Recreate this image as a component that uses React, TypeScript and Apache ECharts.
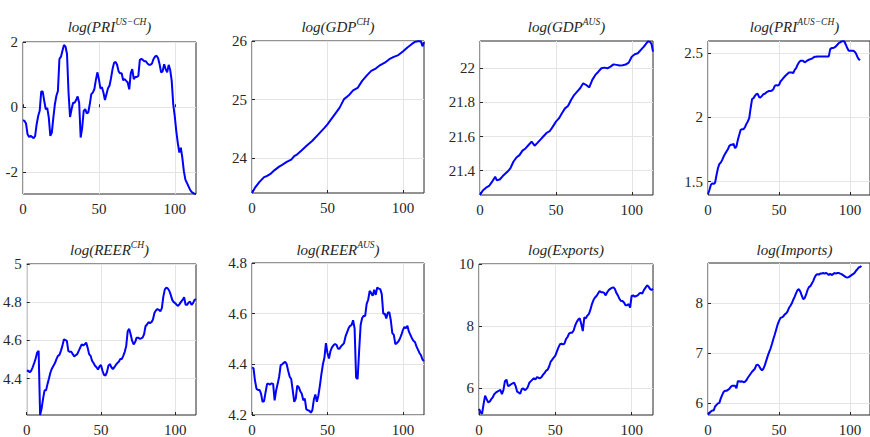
import React, { useEffect, useRef } from "react";
import * as echarts from "echarts";

// ---------- data ----------
const xTicks = [0, 50, 100];

const priUsCh = [
  -0.40, -0.42, -0.50, -0.83, -0.91, -0.88, -0.91, -0.95, -0.88, -0.52,
  -0.27, -0.11, 0.48, 0.48, 0.19, -0.06, -0.03, -0.32, -0.88, -0.78,
  -0.32, 0.09, 0.35, 0.50, 1.48, 1.55, 1.73, 1.91, 1.86, 1.63,
  0.45, -0.30, -0.06, 0.14, 0.14, 0.22, 0.33, 0.14, -0.93, -0.63,
  -0.11, -0.06, -0.19, -0.16, 0.09, 0.40, 0.45, 0.55, 0.83, 1.07,
  0.86, 0.58, 0.61, 0.45, 0.22, 0.40, 0.58, 0.66, 0.89, 1.17,
  1.36, 1.39, 1.30, 1.10, 1.04, 1.04, 0.83, 0.86, 0.81, 0.76,
  0.55, 1.04, 1.17, 0.86, 0.93, 0.93, 0.96, 1.45, 1.48, 1.45,
  1.41, 1.41, 1.34, 1.30, 1.30, 1.34, 1.48, 1.55, 1.58, 1.51,
  1.32, 1.07, 1.10, 1.32, 1.17, 1.07, 1.30, 1.14, 0.81, 0.09,
  -0.27, -0.73, -1.09, -1.39, -1.24, -1.55, -1.96, -2.22, -2.32, -2.42,
  -2.52, -2.59, -2.63, -2.65, -2.66,
];
const priUsChTicks = [-2, 0, 2];

const gdpCh = [
  [0, 23.41], [2, 23.5], [5, 23.6], [8, 23.68], [10, 23.7], [12, 23.73], [15, 23.8],
  [18, 23.86], [20, 23.89], [23, 23.94], [26, 23.98], [28, 24.04], [30, 24.07],
  [33, 24.14], [36, 24.21], [40, 24.3], [44, 24.41], [48, 24.52], [50, 24.58],
  [54, 24.72], [58, 24.86], [61, 25.01], [64, 25.07], [67, 25.16], [70, 25.2],
  [73, 25.32], [76, 25.41], [79, 25.49], [82, 25.53], [85, 25.59], [88, 25.63],
  [91, 25.69], [94, 25.73], [97, 25.76], [100, 25.82], [103, 25.89], [106, 25.95],
  [108, 25.985], [110, 25.997], [111, 25.997], [112, 25.99], [113, 25.91], [114, 25.98],
];
const gdpChTicks = [24, 25, 26];

const gdpAus = [
  [0, 21.258], [2, 21.285], [4, 21.3], [6, 21.31], [8, 21.335], [10, 21.364],
  [11, 21.344], [13, 21.348], [15, 21.368], [18, 21.393], [20, 21.413], [22, 21.452],
  [24, 21.477], [26, 21.491], [28, 21.517], [30, 21.53], [32, 21.55], [34, 21.57],
  [36, 21.546], [38, 21.564], [40, 21.583], [42, 21.603], [44, 21.622], [46, 21.632],
  [48, 21.658], [50, 21.687], [52, 21.706], [54, 21.736], [56, 21.765], [58, 21.779],
  [60, 21.814], [62, 21.843], [64, 21.863], [66, 21.883], [68, 21.912], [70, 21.902],
  [72, 21.888], [74, 21.932], [76, 21.961], [78, 21.98], [80, 22.0], [82, 22.004],
  [84, 22.0], [86, 22.01], [88, 22.023], [90, 22.02], [92, 22.016], [94, 22.018],
  [96, 22.022], [98, 22.033], [100, 22.068], [102, 22.082], [104, 22.088], [106, 22.108],
  [108, 22.127], [110, 22.151], [111, 22.158], [112, 22.155], [113, 22.143], [114, 22.098],
];
const gdpAusTicks = [21.4, 21.6, 21.8, 22];

const priAusCh = [
  1.404, 1.435, 1.474, 1.487, 1.482, 1.492, 1.552, 1.604, 1.638, 1.648,
  1.669, 1.695, 1.716, 1.734, 1.752, 1.778, 1.786, 1.786, 1.794, 1.76,
  1.773, 1.825, 1.864, 1.903, 1.908, 1.908, 1.923, 1.949, 1.968, 1.994,
  2.071, 2.142, 2.149, 2.167, 2.18, 2.183, 2.157, 2.155, 2.167, 2.18,
  2.183, 2.194, 2.2, 2.206, 2.204, 2.209, 2.219, 2.245, 2.251, 2.248,
  2.253, 2.279, 2.292, 2.305, 2.318, 2.329, 2.339, 2.349, 2.349, 2.349,
  2.344, 2.37, 2.383, 2.409, 2.427, 2.44, 2.44, 2.44, 2.427, 2.435,
  2.443, 2.448, 2.453, 2.456, 2.464, 2.471, 2.471, 2.474, 2.474, 2.474,
  2.474, 2.474, 2.474, 2.474, 2.474, 2.474, 2.531, 2.539, 2.539, 2.544,
  2.552, 2.565, 2.578, 2.583, 2.591, 2.593, 2.59, 2.565, 2.539, 2.518,
  2.518, 2.518, 2.518, 2.513, 2.5, 2.474, 2.453, 2.445,
];
const priAusChTicks = [1.5, 2, 2.5];

const reerCh = [
  4.441, 4.441, 4.433, 4.441, 4.459, 4.481, 4.505, 4.536, 4.545, 4.209,
  4.243, 4.295, 4.338, 4.338, 4.372, 4.402, 4.433, 4.453, 4.467, 4.481,
  4.502, 4.519, 4.524, 4.545, 4.571, 4.605, 4.602, 4.597, 4.545, 4.54,
  4.54, 4.528, 4.516, 4.522, 4.528, 4.545, 4.562, 4.579, 4.574, 4.579,
  4.588, 4.562, 4.528, 4.519, 4.493, 4.481, 4.467, 4.459, 4.447, 4.464,
  4.471, 4.441, 4.419, 4.416, 4.433, 4.467, 4.476, 4.459, 4.45, 4.459,
  4.471, 4.481, 4.488, 4.502, 4.502, 4.519, 4.54, 4.571, 4.648, 4.66,
  4.631, 4.597, 4.579, 4.591, 4.614, 4.614, 4.609, 4.61, 4.614, 4.631,
  4.674, 4.683, 4.695, 4.691, 4.695, 4.709, 4.743, 4.757, 4.764, 4.76,
  4.752, 4.769, 4.829, 4.867, 4.876, 4.872, 4.86, 4.838, 4.812, 4.8,
  4.795, 4.786, 4.781, 4.791, 4.803, 4.812, 4.826, 4.786, 4.786, 4.798,
  4.803, 4.786, 4.795, 4.812, 4.816,
];
const reerChTicks = [4.4, 4.6, 4.8, 5];

const reerAus = [
  4.387, 4.385, 4.335, 4.303, 4.299, 4.299, 4.284, 4.252, 4.255, 4.29,
  4.323, 4.323, 4.32, 4.325, 4.323, 4.258, 4.297, 4.323, 4.351, 4.397,
  4.4, 4.406, 4.41, 4.4, 4.374, 4.351, 4.342, 4.297, 4.252, 4.265,
  4.316, 4.31, 4.294, 4.284, 4.258, 4.265, 4.222, 4.219, 4.217, 4.209,
  4.219, 4.261, 4.281, 4.252, 4.277, 4.316, 4.361, 4.4, 4.426, 4.484,
  4.445, 4.423, 4.452, 4.467, 4.475, 4.48, 4.477, 4.462, 4.462, 4.471,
  4.477, 4.484, 4.51, 4.526, 4.542, 4.552, 4.555, 4.574, 4.542, 4.348,
  4.342, 4.452, 4.555, 4.583, 4.591, 4.591, 4.639, 4.655, 4.69, 4.681,
  4.671, 4.694, 4.674, 4.703, 4.699, 4.697, 4.677, 4.6, 4.6, 4.581,
  4.604, 4.606, 4.574, 4.523, 4.516, 4.48, 4.484, 4.49, 4.501, 4.516,
  4.535, 4.548, 4.542, 4.552, 4.529, 4.516, 4.503, 4.493, 4.488, 4.471,
  4.458, 4.445, 4.436, 4.419, 4.413,
];
const reerAusTicks = [4.2, 4.4, 4.6, 4.8];

const exportsLog = [
  5.34, 5.23, 5.18, 5.49, 5.76, 5.65, 5.55, 5.57, 5.65, 5.71,
  5.81, 5.86, 5.89, 5.92, 5.95, 5.81, 5.94, 6.23, 6.28, 6.07,
  6.09, 6.13, 6.16, 6.18, 6.07, 5.89, 5.86, 5.83, 5.97, 6.0,
  5.94, 5.97, 6.04, 6.18, 6.23, 6.28, 6.32, 6.28, 6.36, 6.34,
  6.32, 6.36, 6.44, 6.49, 6.57, 6.6, 6.71, 6.86, 6.92, 6.99,
  7.05, 7.18, 7.31, 7.41, 7.44, 7.41, 7.44, 7.58, 7.65, 7.76,
  7.79, 7.79, 7.86, 8.02, 8.13, 8.21, 8.25, 8.07, 7.84, 8.28,
  8.25, 8.34, 8.39, 8.53, 8.71, 8.84, 8.92, 8.97, 9.05, 9.13,
  9.09, 9.09, 9.07, 8.99, 9.09, 9.16, 9.2, 9.23, 9.25, 9.2,
  9.07, 8.99, 8.88, 8.81, 8.81, 8.76, 8.67, 8.67, 8.71, 8.6,
  8.97, 8.99, 8.95, 8.97, 8.99, 9.05, 9.07, 9.05, 9.16, 9.23,
  9.31, 9.28, 9.2, 9.16, 9.2,
];
const exportsTicks = [6, 8, 10];

const importsLog = [
  5.78, 5.81, 5.84, 5.86, 5.86, 5.94, 5.97, 6.0, 6.01, 6.1,
  6.17, 6.23, 6.25, 6.25, 6.27, 6.29, 6.33, 6.35, 6.35, 6.35,
  6.3, 6.44, 6.44, 6.43, 6.44, 6.42, 6.43, 6.46, 6.51, 6.55,
  6.59, 6.63, 6.66, 6.69, 6.76, 6.77, 6.74, 6.69, 6.66, 6.69,
  6.76, 6.85, 6.94, 7.02, 7.09, 7.18, 7.28, 7.37, 7.47, 7.57,
  7.64, 7.7, 7.71, 7.73, 7.77, 7.79, 7.83, 7.9, 7.94, 7.99,
  8.06, 8.12, 8.19, 8.25, 8.27, 8.22, 8.14, 8.07, 8.09, 8.16,
  8.25, 8.31, 8.33, 8.38, 8.43, 8.5, 8.55, 8.57, 8.56, 8.58,
  8.58, 8.59, 8.58, 8.59, 8.58, 8.55, 8.58, 8.55, 8.57, 8.59,
  8.58, 8.59, 8.59, 8.58, 8.57, 8.55, 8.53, 8.51, 8.5, 8.51,
  8.53, 8.55, 8.57, 8.59, 8.63, 8.66, 8.7, 8.71, 8.73,
];
const importsTicks = [6, 7, 8];

const titles = [
  "{a|log(PRI}{s|US\u2212CH}{a|)}",
  "{a|log(GDP}{s|CH}{a|)}",
  "{a|log(GDP}{s|AUS}{a|)}",
  "{a|log(PRI}{s|AUS\u2212CH}{a|)}",
  "{a|log(REER}{s|CH}{a|)}",
  "{a|log(REER}{s|AUS}{a|)}",
  "{a|log(Exports)}",
  "{a|log(Imports)}",
];

const seriesList = [priUsCh, gdpCh, gdpAus, priAusCh, reerCh, reerAus, exportsLog, importsLog];
const yTickList = [priUsChTicks, gdpChTicks, gdpAusTicks, priAusChTicks, reerChTicks, reerAusTicks, exportsTicks, importsTicks];
const yRanges = [
  [-2.66, 2], [23.41, 26], [21.257, 22.16], [1.396, 2.594],
  [4.209, 5], [4.2, 4.8], [5.14, 10], [5.77, 8.79],
];
const xRange = [0, 114];

// ---------- layout ----------
const layouts = [
  { left: 23, top: 42, width: 173, height: 152 },
  { left: 252, top: 41, width: 172, height: 152 },
  { left: 480, top: 41, width: 173, height: 154 },
  { left: 708, top: 41, width: 173, height: 154 },
  { left: 23, top: 264, width: 173, height: 153 },
  { left: 252, top: 263, width: 172, height: 155 },
  { left: 479, top: 264, width: 174, height: 153 },
  { left: 708, top: 263, width: 173, height: 154 },
];
const titleY = [27, 27, 27, 27, 250, 250, 250, 250];

const FONT = "Liberation Serif";
const AX = "#262626";

function toPoints(arr: any[]) {
  return arr.map((v, i) => (Array.isArray(v) ? v : [i, v]));
}

export default function App() {
  const ref = useRef<HTMLDivElement>(null);
  useEffect(() => {
    if (!ref.current) return;
    const chart = echarts.init(ref.current, undefined, { renderer: "svg" });
    const option: any = {
      animation: false,
      backgroundColor: "#ffffff",
      textStyle: { fontFamily: FONT },
      grid: layouts.map((l) => ({
        ...l,
        show: true,
        borderColor: AX,
        borderWidth: 1,
        backgroundColor: "transparent",
        containLabel: false,
      })),
      xAxis: layouts.map((_, i) => ({
        type: "value",
        gridIndex: i,
        min: xRange[0],
        max: xRange[1],
        axisLine: { show: false },
        axisTick: { show: true, inside: true, length: 3, customValues: xTicks, lineStyle: { color: AX } },
        axisLabel: { customValues: xTicks, fontFamily: FONT, fontSize: 15, color: AX, margin: 7 },
        splitLine: { show: true, lineStyle: { color: "#e4e4e4", width: 1 } },
      })),
      yAxis: layouts.map((_, i) => ({
        type: "value",
        gridIndex: i,
        min: yRanges[i][0],
        max: yRanges[i][1],
        axisLine: { show: false },
        axisTick: { show: true, inside: true, length: 3, customValues: yTickList[i], lineStyle: { color: AX } },
        axisLabel: { customValues: yTickList[i], fontFamily: FONT, fontSize: 15, color: AX, margin: 5 },
        splitLine: { show: true, lineStyle: { color: "#e4e4e4", width: 1 } },
      })),
      series: seriesList.map((s, i) => ({
        type: "line",
        xAxisIndex: i,
        yAxisIndex: i,
        data: toPoints(s),
        symbol: "none",
        showSymbol: false,
        clip: true,
        lineStyle: { color: "#0000ff", width: 2 },
        itemStyle: { color: "#0000ff" },
      })),
      graphic: titles.map((t, i) => ({
        type: "text",
        x: layouts[i].left + layouts[i].width / 2,
        y: titleY[i],
        style: {
          text: t,
          align: "center",
          verticalAlign: "middle",
          fontFamily: FONT,
          rich: {
            a: { fontFamily: FONT, fontStyle: "italic", fontSize: 15, fill: AX, color: AX },
            s: { fontFamily: FONT, fontStyle: "italic", fontSize: 9.5, fill: AX, color: AX, padding: [0, 0, 11, 0] },
          },
        },
      })),
    };
    chart.setOption(option);
    return () => chart.dispose();
  }, []);
  return (
    <div
      ref={ref}
      style={{ position: "absolute", left: 0, top: 0, width: 870, height: 437 }}
    />
  );
}
